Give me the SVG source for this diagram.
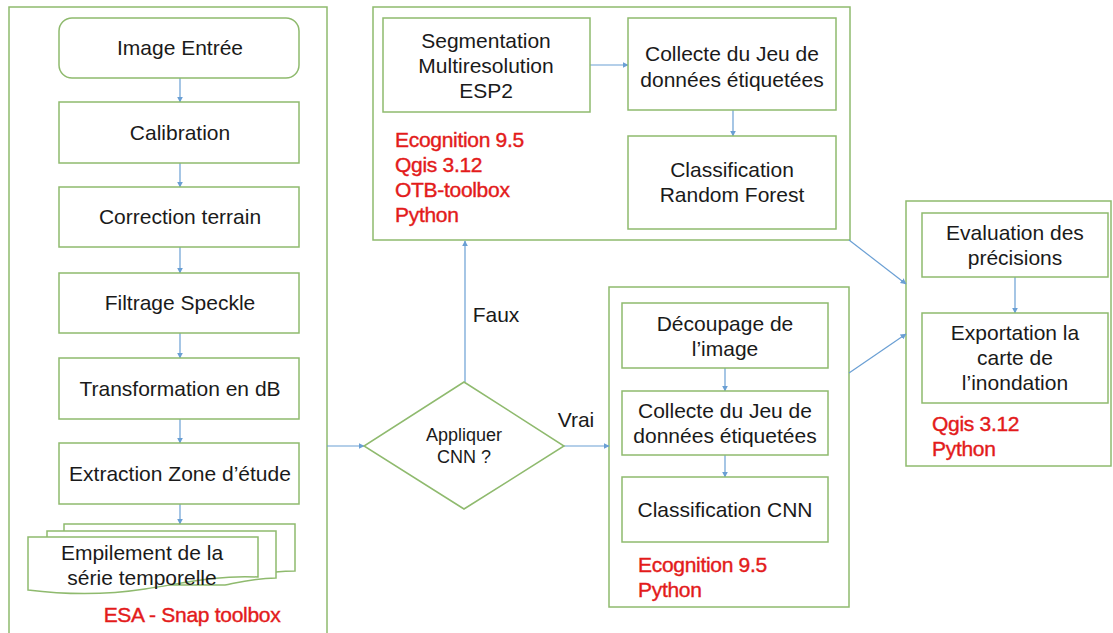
<svg xmlns="http://www.w3.org/2000/svg" width="1113" height="633" viewBox="0 0 1113 633">
<defs>
<style>
.c{fill:none;stroke:#8fba6e;stroke-width:1.5}
.b{fill:#fff;stroke:#8fba6e;stroke-width:1.5}
.t{font-family:"Liberation Sans",Arial,sans-serif;font-size:21px;fill:#1a1a1a;text-anchor:middle}
.s{font-size:18px}
.r{font-family:"Liberation Sans",Arial,sans-serif;font-size:21px;fill:#e31b1b;stroke:#e31b1b;stroke-width:0.4;letter-spacing:-0.3px}
.a{fill:none;stroke:#6a9fd4;stroke-width:1.2;marker-end:url(#ah)}
</style>
<marker id="ah" viewBox="0 0 10 10" refX="9" refY="5" markerWidth="6" markerHeight="6" orient="auto" markerUnits="userSpaceOnUse">
<path d="M0,0 L10,5 L0,10 Z" fill="#6a9fd4"/>
</marker>
</defs>
<rect width="1113" height="633" fill="#fff"/>

<g id="containers">
<rect id="left-container" class="c" x="9" y="7" width="318" height="640"/>
<rect id="rf-container" class="c" x="373" y="7" width="477" height="233"/>
<rect id="cnn-container" class="c" x="609" y="287" width="240" height="320"/>
<rect id="out-container" class="c" x="906" y="201" width="205" height="265"/>
</g>

<g id="connectors">
<line class="a" x1="180" y1="78" x2="180" y2="102"/>
<line class="a" x1="180" y1="163" x2="180" y2="187"/>
<line class="a" x1="180" y1="247" x2="180" y2="273"/>
<line class="a" x1="180" y1="333" x2="180" y2="358"/>
<line class="a" x1="180" y1="419" x2="180" y2="443"/>
<line class="a" x1="180" y1="504" x2="180" y2="524"/>
<line class="a" x1="327" y1="446" x2="364" y2="446"/>
<line class="a" x1="465" y1="382" x2="465" y2="241"/>
<line class="a" x1="564" y1="446" x2="609" y2="446"/>
<line class="a" x1="590" y1="65" x2="628" y2="65"/>
<line class="a" x1="733" y1="110" x2="733" y2="136"/>
<line class="a" x1="725" y1="368" x2="725" y2="391"/>
<line class="a" x1="725" y1="455" x2="725" y2="477"/>
<line class="a" x1="849" y1="240" x2="906" y2="284"/>
<line class="a" x1="849" y1="373" x2="906" y2="334"/>
<line class="a" x1="1015" y1="277" x2="1015" y2="313"/>
</g>

<g id="image-entree">
<rect class="b" x="59" y="18" width="240" height="60" rx="13"/>
<text class="t" x="180" y="55">Image Entrée</text>
</g>
<g id="calibration">
<rect class="b" x="59" y="102" width="240" height="61"/>
<text class="t" x="180" y="140">Calibration</text>
</g>
<g id="correction-terrain">
<rect class="b" x="59" y="187" width="240" height="60"/>
<text class="t" x="180" y="224">Correction terrain</text>
</g>
<g id="filtrage-speckle">
<rect class="b" x="59" y="273" width="240" height="60"/>
<text class="t" x="180" y="310">Filtrage Speckle</text>
</g>
<g id="transformation-db">
<rect class="b" x="59" y="358" width="240" height="61"/>
<text class="t" x="180" y="396">Transformation en dB</text>
</g>
<g id="extraction-zone">
<rect class="b" x="59" y="443" width="240" height="61"/>
<text class="t" x="180" y="481">Extraction Zone d’étude</text>
</g>
<g id="empilement">
<path class="b" d="M64,524 H295 V571 C270,571 255,575 240,578 H64 Z"/>
<path class="b" d="M47,531 H276 V578 C255,578 240,582 225,585 H47 Z"/>
<path class="b" d="M28,537 H258 V577 C215,575 185,583 145,589 C100,596 60,594 28,590 Z"/>
<text class="t" x="142" y="560">Empilement de la</text>
<text class="t" x="142" y="585">série temporelle</text>
</g>
<g id="esa-label">
<text class="r" x="192" y="622" text-anchor="middle">ESA - Snap toolbox</text>
</g>

<g id="decision">
<polygon class="b" points="464,382 564,446 464,509 364,446"/>
<text class="t s" x="464" y="441">Appliquer</text>
<text class="t s" x="464" y="463">CNN ?</text>
</g>
<g id="label-faux"><text class="t" x="496" y="322">Faux</text></g>
<g id="label-vrai"><text class="t" x="576" y="427">Vrai</text></g>

<g id="segmentation">
<rect class="b" x="383" y="18" width="207" height="94"/>
<text class="t" x="486" y="48">Segmentation</text>
<text class="t" x="486" y="73">Multiresolution</text>
<text class="t" x="486" y="98">ESP2</text>
</g>
<g id="collecte-rf">
<rect class="b" x="628" y="18" width="208" height="92"/>
<text class="t" x="732" y="61">Collecte du Jeu de</text>
<text class="t" x="732" y="87">données étiquetées</text>
</g>
<g id="classification-rf">
<rect class="b" x="628" y="136" width="208" height="93"/>
<text class="t" x="732" y="177">Classification</text>
<text class="t" x="732" y="202">Random Forest</text>
</g>
<g id="rf-tools">
<text class="r" x="395" y="147">Ecognition 9.5</text>
<text class="r" x="395" y="172">Qgis 3.12</text>
<text class="r" x="395" y="197">OTB-toolbox</text>
<text class="r" x="395" y="222">Python</text>
</g>

<g id="decoupage">
<rect class="b" x="622" y="303" width="206" height="65"/>
<text class="t" x="725" y="331">Découpage de</text>
<text class="t" x="725" y="356">l’image</text>
</g>
<g id="collecte-cnn">
<rect class="b" x="622" y="391" width="206" height="64"/>
<text class="t" x="725" y="418">Collecte du Jeu de</text>
<text class="t" x="725" y="443">données étiquetées</text>
</g>
<g id="classification-cnn">
<rect class="b" x="622" y="477" width="206" height="65"/>
<text class="t" x="725" y="517">Classification CNN</text>
</g>
<g id="cnn-tools">
<text class="r" x="638" y="572">Ecognition 9.5</text>
<text class="r" x="638" y="597">Python</text>
</g>

<g id="evaluation">
<rect class="b" x="922" y="213" width="186" height="64"/>
<text class="t" x="1015" y="240">Evaluation des</text>
<text class="t" x="1015" y="265">précisions</text>
</g>
<g id="exportation">
<rect class="b" x="922" y="313" width="186" height="90"/>
<text class="t" x="1015" y="340">Exportation la</text>
<text class="t" x="1015" y="365">carte de</text>
<text class="t" x="1015" y="390">l’inondation</text>
</g>
<g id="out-tools">
<text class="r" x="932" y="431">Qgis 3.12</text>
<text class="r" x="932" y="456">Python</text>
</g>
</svg>
